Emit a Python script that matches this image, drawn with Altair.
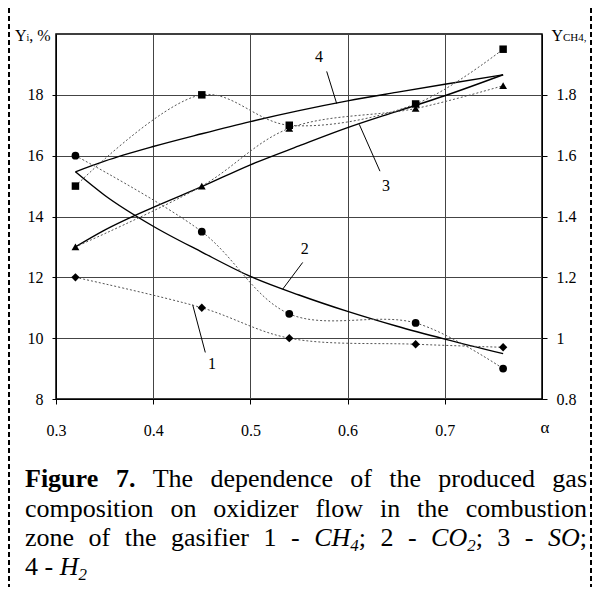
import altair as alt
import pandas as pd

# ---------------- data ----------------
alpha = [0.32, 0.45, 0.54, 0.67, 0.76]
co2_pts = [16.0, 13.5, 10.8, 10.5, 9.0]      # circles  (2 - CO2), left axis
h2_pts = [15.0, 18.0, 17.0, 17.7, 19.5]      # squares  (4 - H2),  left axis
so_pts = [13.0, 15.0, 16.9, 17.55, 18.3]     # triangles (3 - SO), left axis
ch4_pts = [1.20, 1.10, 1.00, 0.98, 0.97]     # diamonds (1 - CH4), right axis

fit_alpha = [0.32, 0.35, 0.40, 0.45, 0.50, 0.55, 0.60, 0.65, 0.70, 0.76]
fit_co2 = [15.47, 14.70, 13.68, 12.83, 12.03, 11.42, 10.88, 10.40, 9.97, 9.49]
fit_so = [13.00, 13.55, 14.30, 14.98, 15.70, 16.32, 16.92, 17.45, 17.97, 18.66]
fit_h2 = [15.47, 15.82, 16.30, 16.72, 17.12, 17.48, 17.80, 18.08, 18.35, 18.66]

x_ticks = [0.3, 0.4, 0.5, 0.6, 0.7]
y_ticks = [8, 10, 12, 14, 16, 18]
y2_ticks = [0.8, 1.0, 1.2, 1.4, 1.6, 1.8]

curve_labels = ["1", "2", "3", "4"]
label_a = [0.4605, 0.556, 0.6395, 0.5706]
label_v = [9.14, 12.93, 15.0, 19.23]
lead_a1 = [0.4406, 0.5538, 0.6333, 0.5785]
lead_v1 = [11.10, 12.49, 15.49, 18.77]
lead_a2 = [0.4536, 0.5332, 0.612, 0.5888]
lead_v2 = [9.53, 11.61, 17.03, 17.71]

# ---------------- layout ----------------
FONT = "Liberation Serif"
W, H = 486, 365
OX, OY = 56, 34  # page position of plot origin

xs = alt.Scale(domain=[0.3, 0.8], nice=False, zero=False)
ys = alt.Scale(domain=[8, 20], nice=False, zero=False)
y2s = alt.Scale(domain=[0.8, 2.0], nice=False, zero=False)

common = dict(title=None, format="~g", labelFlush=False, labelOverlap=False,
              labelFont=FONT, labelFontSize=16, labelColor="black")
x_axis = alt.Axis(values=x_ticks, grid=True, tickSize=5, labelPadding=31,
                  labelBaseline="alphabetic", **common)
y_axis = alt.Axis(values=y_ticks, grid=True, tickSize=4, labelPadding=9, **common)
y2_axis = alt.Axis(orient="right", values=y2_ticks, grid=False, tickSize=5,
                   labelPadding=9, **common)

X = alt.X("a:Q", scale=xs, axis=x_axis)
Y = alt.Y("v:Q", scale=ys, axis=y_axis)
Y2 = alt.Y("c:Q", scale=y2s, axis=y2_axis)


def sdf(vals):
    return pd.DataFrame({"a": alpha, "v": vals})


def fdf(vals):
    return pd.DataFrame({"a": fit_alpha, "v": vals})


def dotted(df, y=Y):
    return alt.Chart(df).mark_line(interpolate="catmull-rom", strokeDash=[2, 2],
                                   color="#555", strokeWidth=1).encode(x=X, y=y)


def pts(df, shape, size, y=Y):
    return alt.Chart(df).mark_point(shape=shape, filled=True, color="black",
                                    size=size, opacity=1).encode(x=X, y=y)


def fit(df):
    return alt.Chart(df).mark_line(interpolate="monotone", color="black",
                                   strokeWidth=1.4).encode(x=X, y=Y)


def txt(s, x, y, size=16, weight="normal", style="normal", align="left",
        baseline="alphabetic"):
    return alt.Chart(alt.Data(values=[{}])).mark_text(
        text=s, font=FONT, fontSize=size, fontWeight=weight, fontStyle=style,
        align=align, baseline=baseline, color="black"
    ).encode(x=alt.value(x), y=alt.value(y))


layers = [
    fit(fdf(fit_co2)), fit(fdf(fit_so)), fit(fdf(fit_h2)),
    dotted(sdf(co2_pts)), dotted(sdf(h2_pts)), dotted(sdf(so_pts)),
    pts(sdf(co2_pts), "circle", 60),
    pts(sdf(h2_pts), "square", 56),
    pts(sdf(so_pts), "triangle-up", 60),
]

lead_df = pd.DataFrame({"a": lead_a1, "v": lead_v1, "a2": lead_a2, "v2": lead_v2})
layers.append(alt.Chart(lead_df).mark_rule(color="black", strokeWidth=1).encode(
    x=X, y=Y, x2="a2:Q", y2="v2:Q"))
lab_df = pd.DataFrame({"a": label_a, "v": label_v, "t": curve_labels})
layers.append(alt.Chart(lab_df).mark_text(font=FONT, fontSize=16, color="black").encode(
    x=X, y=Y, text="t:N"))

# axis titles
layers += [
    txt("Y", 15 - OX, 41 - OY, 16),
    txt("i", 26.5 - OX, 41 - OY, 10),
    txt(", %", 29.3 - OX, 41 - OY, 16),
    txt("Y", 551.5 - OX, 41 - OY, 16),
    txt("CH4,", 563 - OX, 41 - OY, 11),
    txt("\u03b1", 545 - OX, 433 - OY, 17, align="center"),
]

# dashed frame lines of the page
for bx in (9 - OX, 591 - OX):
    layers.append(alt.Chart(alt.Data(values=[{}])).mark_rule(
        color="black", strokeWidth=2, strokeDash=[5, 3]).encode(
        x=alt.value(bx), y=alt.value(8 - OY), y2=alt.value(587 - OY)))

# ---------------- caption (justified lines) ----------------
R = {' ': 250, ',': 250, '-': 333, '.': 250, ';': 278, 'C': 667, 'F': 556,
     'H': 722, 'O': 722, 'S': 556, 'T': 611, 'a': 444, 'b': 500, 'c': 444,
     'd': 500, 'e': 444, 'f': 333, 'g': 500, 'h': 500, 'i': 278, 'l': 278,
     'm': 778, 'n': 500, 'o': 500, 'p': 500, 'r': 333, 's': 389, 't': 278,
     'u': 500, 'w': 722, 'x': 500, 'z': 444, 'y': 500}
B = {'F': 611, 'i': 278, 'g': 500, 'u': 556, 'r': 444, 'e': 444, '.': 250}
I = {'C': 667, 'H': 722, 'O': 722, 'S': 500}
CAP = 26
SUB = 0.65


def glyph_w(ch, st):
    if ch.isdigit():
        return 500
    if st == "b":
        return B.get(ch, R.get(ch, 500))
    if st in ("i", "sub"):
        return I.get(ch, R.get(ch, 500))
    return R.get(ch, 500)


def piece_w(text, st):
    size = CAP * SUB if st == "sub" else CAP
    return sum(glyph_w(c, st) for c in text) * size / 1000.0


cap_lines = [
    [[("Figure", "b")], [("7.", "b")], [("The", "r")], [("dependence", "r")],
     [("of", "r")], [("the", "r")], [("produced", "r")], [("gas", "r")]],
    [[("composition", "r")], [("on", "r")], [("oxidizer", "r")], [("flow", "r")],
     [("in", "r")], [("the", "r")], [("combustion", "r")]],
    [[("zone", "r")], [("of", "r")], [("the", "r")], [("gasifier", "r")],
     [("1", "r")], [("-", "r")], [("CH", "i"), ("4", "sub"), (";", "r")],
     [("2", "r")], [("-", "r")], [("CO", "i"), ("2", "sub"), (";", "r")],
     [("3", "r")], [("-", "r")], [("SO", "i"), (";", "r")]],
    [[("4", "r")], [("-", "r")], [("H", "i"), ("2", "sub")]],
]
cap_base = [487, 517, 546, 575]
CX0, CX1 = 25, 587

for li, words in enumerate(cap_lines):
    wsum = [sum(piece_w(t, s) for t, s in w) for w in words]
    if li < 3:
        gap = (CX1 - CX0 - sum(wsum)) / (len(words) - 1)
    else:
        gap = 0.25 * CAP
    x = CX0
    for w, ww in zip(words, wsum):
        px = x
        for t, s in w:
            if s == "sub":
                layers.append(txt(t, px - OX, cap_base[li] + 0.18 * CAP - OY,
                                  CAP * SUB, style="italic"))
            else:
                layers.append(txt(t, px - OX, cap_base[li] - OY, CAP,
                                  weight="bold" if s == "b" else "normal",
                                  style="italic" if s == "i" else "normal"))
            px += piece_w(t, s)
        x += ww + gap

left = alt.layer(*layers)

ch4_df = pd.DataFrame({"a": alpha, "c": ch4_pts})
right = alt.layer(dotted(ch4_df, Y2), pts(ch4_df, "diamond", 70, Y2))

chart = alt.layer(left, right).resolve_scale(y="independent").properties(
    width=W, height=H,
    autosize=alt.AutoSizeParams(type="none"),
    padding={"left": OX - 8, "top": OY - 8, "right": 52, "bottom": 188},
).configure(font=FONT).configure_view(stroke="black", strokeWidth=1.5).configure_axis(
    labelFont=FONT, labelFontSize=16, labelColor="black",
    domainColor="black", domainWidth=1, tickColor="black", tickWidth=1,
    gridColor="#444", gridWidth=1, gridOpacity=1,
)

chart.save("out.html", embed_options={"renderer": "svg", "actions": False})
